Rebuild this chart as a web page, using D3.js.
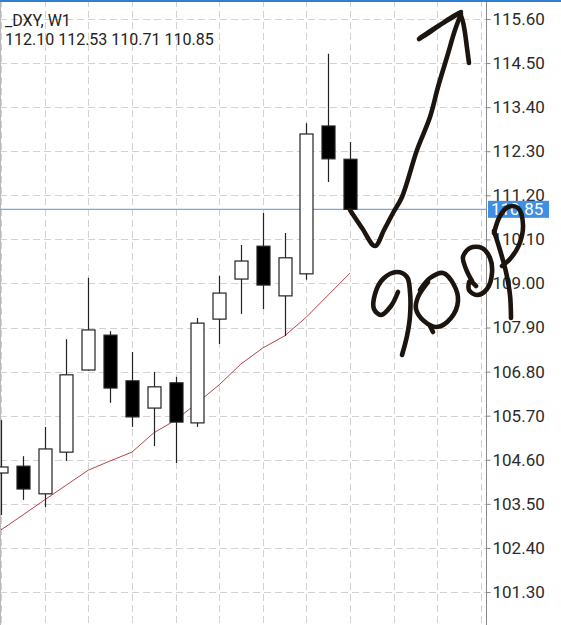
<!DOCTYPE html>
<html>
<head>
<meta charset="utf-8">
<script src="https://cdn.jsdelivr.net/npm/d3@7"></script>
<style>
    body { margin: 0; background: #fff; }
    svg { display: block; font-family: Roboto, "Noto Sans", sans-serif; }
</style>
</head>
<body>
<script>
// weekly DXY candles, oldest first
const symbol = "_DXY, W1";
const lastOHLC = [112.10, 112.53, 110.71, 110.85];

const opens  = [104.27, 104.44, 103.75, 104.79, 106.84, 107.71, 106.57, 105.89, 106.52, 105.52, 108.11, 109.11, 109.93, 108.69, 109.24, 112.93, 112.10];
const highs  = [105.59, 104.69, 105.42, 107.61, 109.14, 107.81, 107.29, 106.79, 106.67, 108.14, 109.19, 109.96, 110.76, 110.26, 113.00, 114.73, 112.53];
const lows   = [103.22, 103.60, 103.42, 104.57, 106.82, 106.02, 105.42, 104.94, 104.52, 105.42, 107.49, 108.24, 108.36, 107.69, 109.09, 111.53, 110.71];
const closes = [104.42, 103.87, 104.87, 106.72, 107.84, 106.39, 105.67, 106.42, 105.54, 108.01, 108.76, 109.56, 108.96, 109.64, 112.73, 112.11, 110.85];
const maValues = [102.85, 103.22, 103.60, 103.97, 104.34, 104.57, 104.79, 105.27, 105.59, 106.02, 106.47, 106.99, 107.39, 107.69, 108.16, 108.71, 109.26];

const priceTicks = [115.60, 114.50, 113.40, 112.30, 111.20, 110.10, 109.00, 107.90, 106.80, 105.70, 104.60, 103.50, 102.40, 101.30];
const gridBars = d3.range(0, 23, 2);   // vertical grid every second bar
const bidLevel = 110.85;

// hand-drawn ink on top of the screenshot (screen pixels)
const inkArrow = [[350,210],[362,228],[375,246],[384,230],[393,213],[402,197],[417,150],[430,117],[438,87],[447,57],[455,30],[461,14]];
const inkHeadLeft = [[419,39],[430,32],[440,25],[452,17],[461,12],[448,20],[432,30],[420,38]];
const inkHeadRight = [[460,13],[463,22],[465,33],[467,48],[469,63]];
const inkNine = [[398,292],[391,306],[381,315],[374,309],[375,294],[383,279],[397,272],[407,277],[410,292],[410,316],[407,336],[402,355]];
const inkZero1 = [[420,290],[430,278],[443,273],[454,285],[458,301],[451,318],[437,327],[424,321],[416,309],[418,297],[428,282]];
const inkZero1Tail = [[430,326],[433,332]];
const inkZero2 = [[472,281],[466,269],[463,257],[470,248],[482,248],[490,258],[492,273],[487,289],[477,295],[469,290],[470,281],[476,286]];
const inkP = [[494,231],[500,250],[506,272],[510,295],[511,318]];
const inkPBowl = [[494,233],[500,216],[508,207],[518,208],[523,225],[519,245],[510,259],[502,266]];

const W = 561, H = 625;
const plotRight = 486.5;

const svg = d3.select("body").append("svg")
    .attr("width", W)
    .attr("height", H);

const x = d3.scaleLinear().domain([0, 16]).range([1, 350]);
const y = d3.scaleLinear().domain([101.3, 115.6]).range([592, 19]);

svg.append("defs").append("clipPath").attr("id", "plot")
    .append("rect").attr("x", 0).attr("y", 0).attr("width", plotRight).attr("height", H);

const grid = svg.append("g")
    .attr("stroke", "#d2d2d2")
    .attr("stroke-dasharray", "7,4")
    .attr("shape-rendering", "crispEdges");

grid.selectAll("line.h")
    .data(priceTicks.concat([100.2]))
    .join("line")
    .attr("class", "h")
    .attr("x1", 0).attr("x2", plotRight)
    .attr("y1", d => Math.round(y(d)) + 0.5)
    .attr("y2", d => Math.round(y(d)) + 0.5);

grid.selectAll("line.v")
    .data(gridBars)
    .join("line")
    .attr("class", "v")
    .attr("x1", d => Math.round(x(d)) + 0.5)
    .attr("x2", d => Math.round(x(d)) + 0.5)
    .attr("y1", 0).attr("y2", H);

// left frame edge
svg.append("line")
    .attr("x1", 0.5).attr("x2", 0.5).attr("y1", 0).attr("y2", H)
    .attr("stroke", "#b8b8b8");

// bid line
svg.append("line")
    .attr("x1", 0).attr("x2", plotRight)
    .attr("y1", y(bidLevel)).attr("y2", y(bidLevel))
    .attr("stroke", "#72acdc")
    .attr("stroke-width", 1.2);

const plot = svg.append("g").attr("clip-path", "url(#plot)");

// moving average
plot.append("path")
    .datum(maValues)
    .attr("fill", "none")
    .attr("stroke", "#b54444")
    .attr("stroke-width", 1)
    .attr("d", d3.line().x((d, i) => x(i)).y(d => y(d)));

const candles = plot.append("g").selectAll("g")
    .data(opens.map((o, i) => ({i, o, h: highs[i], l: lows[i], c: closes[i]})))
    .join("g");

candles.append("line")
    .attr("x1", d => Math.round(x(d.i)) + 0.5)
    .attr("x2", d => Math.round(x(d.i)) + 0.5)
    .attr("y1", d => y(d.h))
    .attr("y2", d => y(d.l))
    .attr("stroke", "#222")
    .attr("stroke-width", 1.2);

const bodyW = 13;
candles.append("rect")
    .attr("x", d => Math.round(x(d.i)) - bodyW / 2 + 0.5)
    .attr("width", bodyW)
    .attr("y", d => y(Math.max(d.o, d.c)))
    .attr("height", d => Math.max(1, Math.abs(y(d.o) - y(d.c))))
    .attr("fill", d => d.c >= d.o ? "#fff" : "#000")
    .attr("stroke", "#222")
    .attr("stroke-width", 1.2);

// price axis on the right
const axis = svg.append("g")
    .attr("transform", `translate(${plotRight},0)`)
    .call(d3.axisRight(y).tickValues(priceTicks).tickSize(4).tickPadding(2).tickFormat(d3.format(".2f")));
axis.select(".domain").remove();
axis.selectAll(".tick line").attr("stroke", "#888");
axis.selectAll(".tick text")
    .attr("fill", "#2b2b2b")
    .attr("font-size", 17)
    .attr("font-family", "Roboto, sans-serif");

svg.append("line")
    .attr("x1", plotRight).attr("x2", plotRight).attr("y1", 0).attr("y2", H)
    .attr("stroke", "#8a8a8a");

// bid label
svg.append("rect")
    .attr("x", 488).attr("y", y(bidLevel) - 8.5)
    .attr("width", 61).attr("height", 17)
    .attr("fill", "#3f8fe3");
svg.append("text")
    .attr("x", 491).attr("y", y(bidLevel))
    .attr("dy", "0.35em")
    .attr("fill", "#fff")
    .attr("font-size", 17)
    .text(d3.format(".2f")(bidLevel));

// header
svg.append("text")
    .attr("x", 5).attr("y", 26)
    .attr("fill", "#222")
    .attr("font-size", 16)
    .text(symbol);
svg.append("text")
    .attr("x", 5).attr("y", 45)
    .attr("fill", "#222")
    .attr("font-size", 16)
    .text(lastOHLC.map(d3.format(".2f")).join(" "));

// top frame edge
svg.append("rect")
    .attr("x", 0).attr("y", 0).attr("width", W).attr("height", 2)
    .attr("fill", "#2d7fd6");

// ink scribbles
const ink = svg.append("g")
    .attr("fill", "none")
    .attr("stroke", "#1c140e")
    .attr("stroke-width", 4.6)
    .attr("stroke-linecap", "round")
    .attr("stroke-linejoin", "round");
const inkLine = d3.line().curve(d3.curveCatmullRom.alpha(0.5));
[inkArrow, inkHeadLeft, inkHeadRight, inkNine, inkZero1, inkZero1Tail, inkZero2, inkP, inkPBowl]
    .forEach(stroke => ink.append("path").attr("d", inkLine(stroke)));
</script>
</body>
</html>
